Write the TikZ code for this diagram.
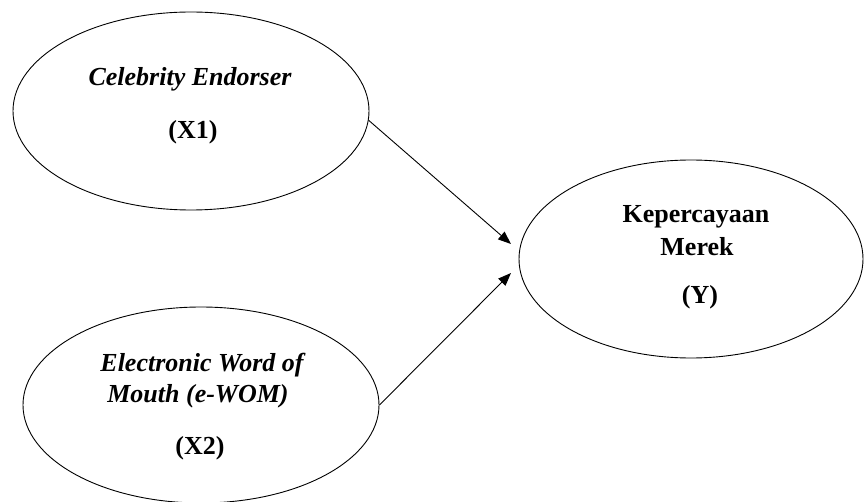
\documentclass[tikz,border=0pt]{standalone}
\usepackage{fontspec}
\setmainfont{Liberation Serif}
\usetikzlibrary{shapes.geometric,arrows.meta}
\begin{document}
\begin{tikzpicture}[x=1pt,y=-1pt,
  oval/.style={draw, ellipse, line width=0.9pt, inner sep=0pt},
  lbl/.style={anchor=base, inner sep=0pt, font=\fontsize{26}{31}\selectfont\bfseries},
  lbli/.style={lbl, font=\fontsize{26}{31}\selectfont\bfseries\itshape},
  conn/.style={line width=0.9pt, -{Triangle[length=13pt,width=10pt]}}]
\useasboundingbox (0,0) rectangle (864,502);
\node[oval, minimum width=356pt, minimum height=198pt] (e1) at (191,111) {};
\node[oval, minimum width=356pt, minimum height=196pt] (e2) at (201,405) {};
\node[oval, minimum width=344pt, minimum height=198pt] (e3) at (691,259) {};
\node[lbli] (l1) at (190,86) {Celebrity Endorser};
\node[lbl] (l2) at (193,139) {(X1)};
\node[lbli] (l3) at (202,371) {Electronic Word of};
\node[lbli] (l4) at (198,402) {Mouth (e-WOM)};
\node[lbl] (l5) at (200,454) {(X2)};
\node[lbl] (l6) at (696,223) {Kepercayaan};
\node[lbl] (l7) at (697,256) {Merek};
\node[lbl] (l8) at (700,304) {(Y)};
\coordinate (t1) at (511,244);
\coordinate (t2) at (511,273);
\draw[conn] (e1.-3.2) -- (t1);
\draw[conn] (e2.east) -- (t2);
\end{tikzpicture}
\end{document}
